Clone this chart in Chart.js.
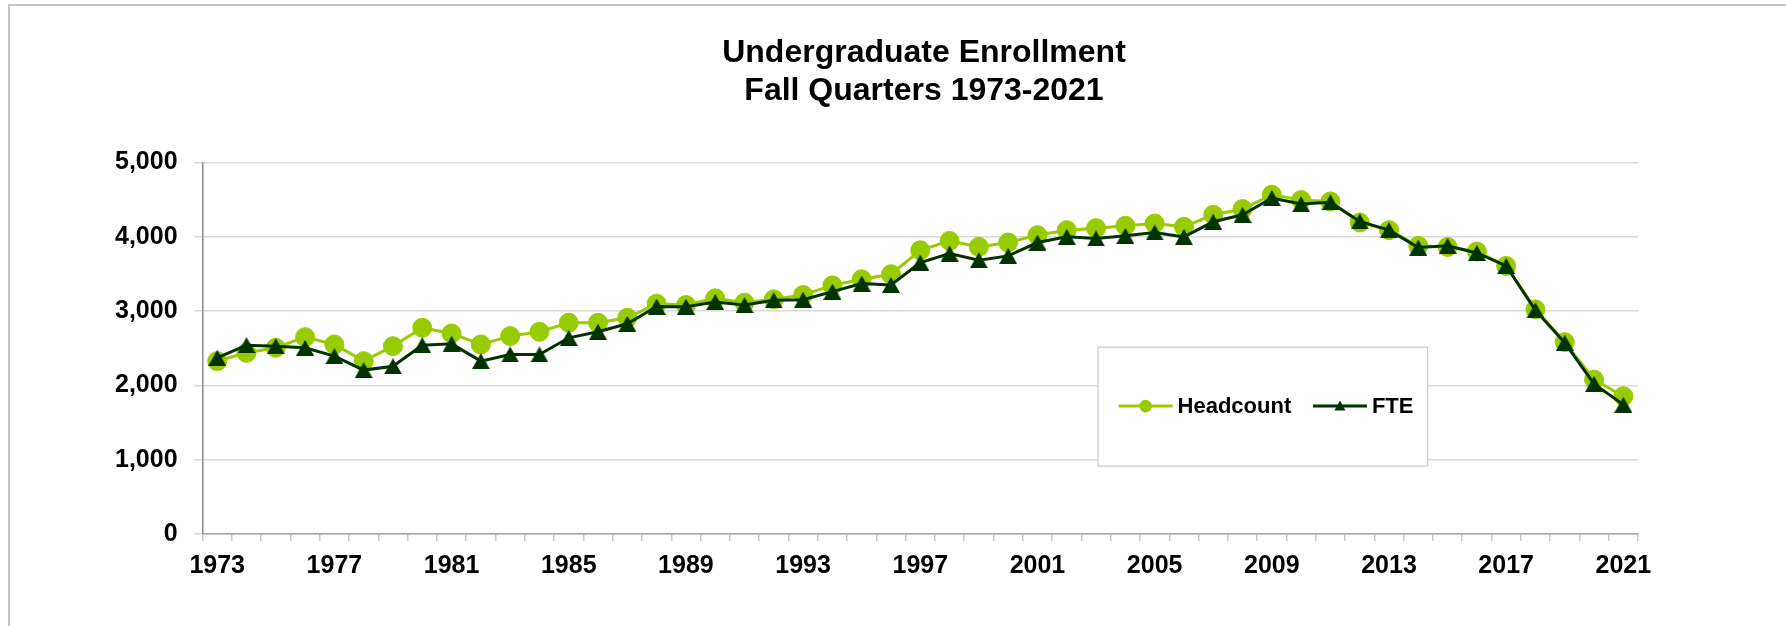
<!DOCTYPE html>
<html>
<head>
<meta charset="utf-8">
<script src="https://cdn.jsdelivr.net/npm/chart.js@4.4.1/dist/chart.umd.min.js"></script>
<style>
  html, body { margin: 0; padding: 0; background: #ffffff; overflow: hidden; width: 1786px; height: 626px; }
  #frame { position: absolute; left: 8px; top: 4px; width: 2000px; height: 1000px; border-top: 2px solid #c4c4c4; border-left: 2px solid #c4c4c4; }
  #wrap { position: absolute; left: 0; top: 0; width: 1786px; height: 626px; }
</style>
</head>
<body>
<div id="frame"></div>
<div id="wrap"><canvas id="c" width="1786" height="626"></canvas></div>
<script>
const years = [1973,1974,1975,1976,1977,1978,1979,1980,1981,1982,1983,1984,1985,1986,1987,1988,1989,1990,1991,1992,1993,1994,1995,1996,1997,1998,1999,2000,2001,2002,2003,2004,2005,2006,2007,2008,2009,2010,2011,2012,2013,2014,2015,2016,2017,2018,2019,2020,2021];
const headcount = [2325,2437,2505,2648,2550,2325,2527,2774,2698,2550,2662,2720,2842,2842,2909,3098,3080,3170,3112,3157,3215,3345,3426,3494,3817,3943,3862,3921,4020,4087,4114,4146,4177,4132,4294,4371,4564,4492,4474,4191,4087,3876,3862,3800,3606,3022,2581,2077,1853];
const fte = [2370,2540,2527,2505,2392,2205,2257,2540,2558,2325,2415,2415,2639,2720,2828,3060,3058,3120,3080,3143,3152,3260,3368,3350,3651,3772,3683,3741,3921,3997,3975,4011,4056,3997,4200,4294,4519,4438,4461,4204,4087,3853,3876,3780,3606,3008,2572,2019,1740];
const yTicks = [0,1000,2000,3000,4000,5000];
const titleLines = ['Undergraduate Enrollment', 'Fall Quarters 1973-2021'];
const seriesNames = ['Headcount', 'FTE'];

const HC_COLOR = '#99cc00';
const FTE_COLOR = '#003300';
const FONT = '"Liberation Sans", Arial, sans-serif';

function makeTriangle(w, h, color) {
  const cv = document.createElement('canvas');
  cv.width = w; cv.height = h;
  const g = cv.getContext('2d');
  g.fillStyle = color;
  g.beginPath();
  g.moveTo(w / 2, 0);
  g.lineTo(w, h);
  g.lineTo(0, h);
  g.closePath();
  g.fill();
  return cv;
}
const triBig = makeTriangle(18, 16, FTE_COLOR);

// Centre the title over the full chart frame (which extends beyond the window)
const titleCentre = {
  id: 'titleCentre',
  afterLayout(chart, args, opts) {
    const tb = chart.titleBlock;
    if (!tb) return;
    const w = tb.right - tb.left;
    tb.left = opts.centre - w / 2;
    tb.right = opts.centre + w / 2;
  }
};

const legendInside = {
  id: 'legendInside',
  afterDraw(chart, args, opts) {
    const ctx = chart.ctx;
    const ca = chart.chartArea;
    const x0 = ca.left + opts.dx, y0 = ca.top + opts.dy;
    ctx.save();
    ctx.fillStyle = '#ffffff';
    ctx.fillRect(x0, y0, opts.w, opts.h);
    ctx.strokeStyle = '#c0c0c0';
    ctx.lineWidth = 1;
    ctx.strokeRect(x0 + 0.5, y0 + 0.5, opts.w, opts.h);
    const cy = y0 + opts.h / 2;
    ctx.font = 'bold 22px ' + FONT;
    ctx.textBaseline = 'middle';
    let x = x0 + opts.padLeft;
    chart.data.datasets.forEach((ds, i) => {
      ctx.strokeStyle = ds.borderColor;
      ctx.lineWidth = 3;
      ctx.beginPath();
      ctx.moveTo(x, cy);
      ctx.lineTo(x + opts.lineLen, cy);
      ctx.stroke();
      const mx = x + opts.lineLen / 2;
      ctx.fillStyle = ds.pointBackgroundColor;
      if (i === 0) {
        ctx.beginPath();
        ctx.arc(mx, cy, 6.3, 0, Math.PI * 2);
        ctx.fill();
      } else {
        ctx.beginPath();
        ctx.moveTo(mx, cy - 5.5);
        ctx.lineTo(mx + 5.5, cy + 4.5);
        ctx.lineTo(mx - 5.5, cy + 4.5);
        ctx.closePath();
        ctx.fill();
      }
      x += opts.lineLen + 5;
      ctx.fillStyle = '#000000';
      ctx.fillText(ds.label, x, cy + 1);
      x += ctx.measureText(ds.label).width + opts.itemGap;
    });
    ctx.restore();
  }
};

new Chart(document.getElementById('c'), {
  type: 'line',
  data: {
    labels: years.map(String),
    datasets: [
      {
        label: seriesNames[0],
        data: headcount,
        order: 1,
        borderColor: HC_COLOR,
        backgroundColor: HC_COLOR,
        pointBackgroundColor: HC_COLOR,
        pointBorderColor: HC_COLOR,
        borderWidth: 3,
        pointRadius: 9.5,
        pointBorderWidth: 1,
        pointStyle: 'circle',
        tension: 0
      },
      {
        label: seriesNames[1],
        data: fte,
        order: 0,
        borderColor: FTE_COLOR,
        backgroundColor: FTE_COLOR,
        pointBackgroundColor: FTE_COLOR,
        pointBorderColor: FTE_COLOR,
        borderWidth: 3,
        pointRadius: 9,
        pointStyle: triBig,
        tension: 0
      }
    ]
  },
  options: {
    responsive: false,
    animation: false,
    devicePixelRatio: 1,
    layout: { padding: { left: 98, right: 148, top: 0, bottom: 35 } },
    plugins: {
      legend: { display: false },
      tooltip: { enabled: false },
      title: {
        display: true,
        text: titleLines,
        color: '#000000',
        font: { family: FONT, size: 32, weight: 'bold', lineHeight: 1.2 },
        padding: { top: 34, bottom: 51.5 }
      },
      titleCentre: { centre: 924 },
      legendInside: { dx: 895, dy: 184.3, w: 329.6, h: 119, padLeft: 21, lineLen: 54, itemGap: 21.7 }
    },
    scales: {
      x: {
        offset: true,
        grid: { display: true, drawOnChartArea: false, offset: true, tickLength: 7, color: '#c8c8c8', lineWidth: 1.5 },
        border: { display: true, color: '#a6a6a6', width: 1.5 },
        ticks: {
          autoSkip: false,
          maxRotation: 0,
          minRotation: 0,
          padding: 10,
          color: '#000000',
          font: { family: FONT, size: 25, weight: 'bold' },
          callback: function(val, idx) { return idx % 4 === 0 ? years[idx] : ''; }
        }
      },
      y: {
        min: yTicks[0],
        max: yTicks[yTicks.length - 1],
        afterBuildTicks: function(scale) { scale.ticks = yTicks.map(v => ({ value: v })); },
        grid: { color: '#d9d9d9', lineWidth: 1.5, tickLength: 8, drawTicks: true },
        border: { display: true, color: '#8c8c8c', width: 1.5 },
        ticks: {
          padding: 17,
          color: '#000000',
          font: { family: FONT, size: 25, weight: 'bold' },
          callback: function(v) { return v.toLocaleString('en-US'); }
        }
      }
    }
  },
  plugins: [titleCentre, legendInside]
});
</script>
</body>
</html>
